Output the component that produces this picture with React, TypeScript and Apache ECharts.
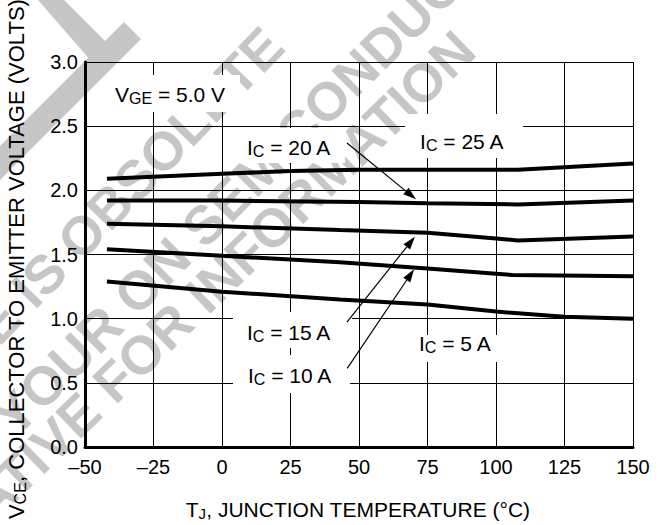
import React, { useEffect, useRef } from "react";
import * as echarts from "echarts";

// Axis ticks
const xMin = -50;
const xMax = 150;
const xStep = 25;
const yMin = 0;
const yMax = 3;
const yStep = 0.5;

// Curves: junction temperature (°C) vs V_CE (V)
const ic25T = [-42, 0, 25, 50, 75, 108, 150];
const ic25V = [2.09, 2.13, 2.15, 2.16, 2.16, 2.16, 2.21];
const ic20T = [-42, 0, 50, 75, 108, 150];
const ic20V = [1.92, 1.92, 1.91, 1.9, 1.89, 1.92];
const ic15T = [-42, 0, 43, 75, 100, 108, 150];
const ic15V = [1.74, 1.72, 1.69, 1.67, 1.625, 1.61, 1.64];
const ic10T = [-42, 0, 43, 75, 100, 106, 150];
const ic10V = [1.54, 1.49, 1.44, 1.39, 1.35, 1.34, 1.33];
const ic5T = [-42, 0, 43, 75, 100, 125, 150];
const ic5V = [1.29, 1.21, 1.15, 1.11, 1.055, 1.015, 1.0];

// Annotation labels: [main, subscript, rest], anchor (T, V) = left edge / vertical middle
const labelMain = ["V", "I", "I", "I", "I", "I"];
const labelSub = ["GE", "C", "C", "C", "C", "C"];
const labelRest = [" = 5.0 V", " = 20 A", " = 25 A", " = 15 A", " = 10 A", " = 5 A"];
const labelT = [-39.05, 9.1, 72.3, 9.1, 9.5, 71.9];
const labelV = [2.743, 2.33, 2.377, 0.896, 0.561, 0.803];

// Arrows: tail (T, V) -> head (T, V)
const arrowTailT = [45.6, 45.6, 45.7];
const arrowTailV = [2.369, 0.974, 0.613];
const arrowHeadT = [70.8, 70.4, 70.1];
const arrowHeadV = [1.93, 1.639, 1.385];

export default function App() {
  const ref = useRef<HTMLDivElement>(null);
  useEffect(() => {
    const chart = echarts.init(ref.current!, null, { renderer: "svg" });
    const FONT = "'Liberation Sans', Arial, Helvetica, sans-serif";
    const zip = (t: number[], v: number[]) => t.map((x, i) => [x, v[i]]);
    const curves = [
      zip(ic25T, ic25V),
      zip(ic20T, ic20V),
      zip(ic15T, ic15V),
      zip(ic10T, ic10V),
      zip(ic5T, ic5V),
    ];
    chart.setOption({
      animation: false,
      grid: { left: 85, right: 32, top: 62, bottom: 78 },
      xAxis: {
        type: "value",
        min: xMin,
        max: xMax,
        interval: xStep,
        z: 2,
        axisLine: { show: true, onZero: false, lineStyle: { color: "#000", width: 3 } },
        axisTick: { show: false },
        splitLine: { show: true, lineStyle: { color: "#000", width: 1 } },
        axisLabel: {
          color: "#000",
          fontSize: 20,
          fontFamily: FONT,
          margin: 10,
          formatter: (v: number) => (v < 0 ? "\u2013" + Math.abs(v) : String(v)),
        },
      },
      yAxis: {
        type: "value",
        min: yMin,
        max: yMax,
        interval: yStep,
        z: 2,
        axisLine: { show: true, onZero: false, lineStyle: { color: "#000", width: 3 } },
        axisTick: { show: false },
        splitLine: { show: true, lineStyle: { color: "#000", width: 1 } },
        axisLabel: {
          color: "#000",
          fontSize: 20,
          fontFamily: FONT,
          margin: 7,
          formatter: (v: number) => v.toFixed(1),
        },
      },
      series: curves.map((d) => ({
        type: "line",
        data: d,
        showSymbol: false,
        silent: true,
        z: 3,
        lineStyle: { color: "#000", width: 4 },
      })),
    });

    const px = (t: number, v: number) => chart.convertToPixel({ gridIndex: 0 }, [t, v]) as number[];
    const elements: any[] = [];

    // watermark
    const GREY = "#c6c6c6";
    const wm = [
      { x: 67, y: 250, rot: 46, size: 54, before: "THIS DEVICE IS ", after: "OBSOLETE" },
      { x: 28, y: 400, rot: 45, size: 54, before: "CONTACT Y", after: "OUR ON SEMICONDUCTOR" },
      { x: 102, y: 392, rot: 44, size: 54, before: "REPRESENTATIVE ", after: "FOR INFORMATION" },
    ];
    wm.forEach((w) => {
      const st = { fill: GREY, font: `bold ${w.size}px ${FONT}`, textVerticalAlign: "middle" };
      const rotation = (w.rot * Math.PI) / 180;
      elements.push({
        type: "text", x: w.x, y: w.y, rotation, z: 1, silent: true,
        style: { ...st, text: w.before, textAlign: "right" },
      });
      elements.push({
        type: "text", x: w.x, y: w.y, rotation, z: 1, silent: true,
        style: { ...st, text: w.after, textAlign: "left" },
      });
    });
    // large watermark fragments at top-left
    elements.push({
      type: "polygon", z: 1, silent: true,
      shape: { points: [[0, 146], [124, 22], [141, 39], [0, 180]] },
      style: { fill: GREY },
    });
    elements.push({
      type: "polygon", z: 1, silent: true,
      shape: { points: [[38, 0], [64, 0], [108, 44], [92, 62]] },
      style: { fill: GREY },
    });

    // label boxes (white), offsets relative to anchor
    const boxes = [
      [-10, -20, 135, 37],
      [-12, -20, 110, 35],
      [-15, -28, 118, 44],
      [-14, -20, 119, 36],
      [-15, -20, 117, 38],
      [-14, -9, 105, 27],
    ];
    const rich = {
      n: { fontSize: 21, fontFamily: FONT, lineHeight: 24, fill: "#000" },
      s: { fontSize: 16, fontFamily: FONT, lineHeight: 14, verticalAlign: "bottom", fill: "#000" },
    };
    labelMain.forEach((m, i) => {
      const [ax, ay] = px(labelT[i], labelV[i]);
      const b = boxes[i];
      elements.push({
        type: "rect", z: 5, silent: true,
        shape: { x: ax + b[0], y: ay + b[1], width: b[2], height: b[3] },
        style: { fill: "#fff" },
      });
      elements.push({
        type: "text", x: ax, y: ay, z: 6, silent: true,
        style: {
          text: `{n|${m}}{s|${labelSub[i]}}{n|${labelRest[i]}}`,
          rich,
          textAlign: "left",
          textVerticalAlign: "middle",
        },
      });
    });

    // arrows
    arrowTailT.forEach((_, i) => {
      const [x1, y1] = px(arrowTailT[i], arrowTailV[i]);
      const [x2, y2] = px(arrowHeadT[i], arrowHeadV[i]);
      const dx = x2 - x1, dy = y2 - y1;
      const len = Math.hypot(dx, dy);
      const ux = dx / len, uy = dy / len;
      const hl = 13, hw = 4.2;
      const bx = x2 - ux * hl, by = y2 - uy * hl;
      elements.push({
        type: "line", z: 7, silent: true,
        shape: { x1, y1, x2: bx, y2: by },
        style: { stroke: "#000", lineWidth: 1.2 },
      });
      elements.push({
        type: "polygon", z: 7, silent: true,
        shape: { points: [[x2, y2], [bx - uy * hw, by + ux * hw], [bx + uy * hw, by - ux * hw]] },
        style: { fill: "#000" },
      });
    });

    // axis titles
    const titleRich = {
      n: { fontSize: 21, fontFamily: FONT, lineHeight: 24, fill: "#000" },
      s: { fontSize: 15, fontFamily: FONT, lineHeight: 14, verticalAlign: "bottom", fill: "#000" },
    };
    elements.push({
      type: "text", x: 358, y: 509, z: 6, silent: true,
      style: {
        text: "{n|T}{s|J}{n|, JUNCTION TEMPERATURE (°C)}",
        rich: titleRich,
        textAlign: "center",
        textVerticalAlign: "middle",
      },
    });
    elements.push({
      type: "text", x: 16, y: 259, rotation: Math.PI / 2, z: 6, silent: true,
      style: {
        text: "{n|V}{s|CE}{n|, COLLECTOR TO EMITTER VOLTAGE (VOLTS)}",
        rich: {
          n: { fontSize: 22, fontFamily: FONT, lineHeight: 24, fill: "#000" },
          s: { fontSize: 16, fontFamily: FONT, lineHeight: 14, verticalAlign: "bottom", fill: "#000" },
        },
        textAlign: "center",
        textVerticalAlign: "middle",
      },
    });

    chart.setOption({ graphic: { elements } });
    return () => chart.dispose();
  }, []);
  return (
    <div
      ref={ref}
      style={{ position: "fixed", left: 0, top: 0, width: 665, height: 525, background: "#fff" }}
    />
  );
}
